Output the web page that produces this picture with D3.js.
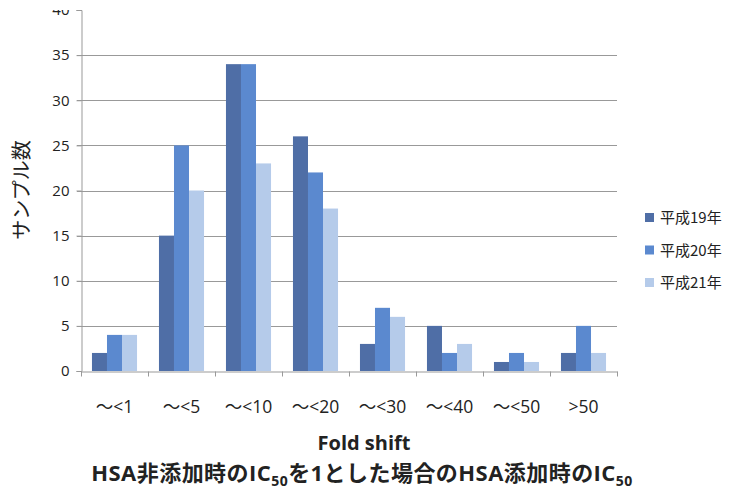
<!DOCTYPE html>
<html>
<head>
<meta charset="utf-8">
<script src="https://cdn.jsdelivr.net/npm/d3@7"></script>
<style>
  html, body { margin: 0; padding: 0; background: #fff; }
  svg { display: block; font-family: "Open Sans", "Noto Sans CJK JP", sans-serif; }
</style>
</head>
<body>
<svg id="chart" width="731" height="491"></svg>
<script>
// Fold-shift bins and sample counts per fiscal year
const categories = ["〜<1", "〜<5", "〜<10", "〜<20", "〜<30", "〜<40", "〜<50", ">50"];
const seriesNames = ["平成19年", "平成20年", "平成21年"];
const h19 = [2, 15, 34, 26, 3, 5, 1, 2];
const h20 = [4, 25, 34, 22, 7, 2, 2, 5];
const h21 = [4, 20, 23, 18, 6, 3, 1, 2];
const yTicks = [0, 5, 10, 15, 20, 25, 30, 35, 40];
const colors = ["#4f6ea6", "#5b89cf", "#b5cbea"];

const seriesValues = [h19, h20, h21];
const rows = categories.map((c, i) => ({
  cat: c,
  vals: seriesNames.map((s, k) => ({ key: s, value: seriesValues[k][i] }))
}));

const svg = d3.select("#chart");
const margin = { left: 81, right: 114, top: 10, bottom: 120 };
const W = 731, H = 491;

const x = d3.scaleBand().domain(categories).range([margin.left, W - margin.right]).paddingInner(0).paddingOuter(0);
const xInner = d3.scaleBand().domain(seriesNames).range([0, x.bandwidth()]).paddingInner(0).paddingOuter(0.73);
const y = d3.scaleLinear().domain([0, 40]).range([H - margin.bottom, margin.top]);

// clip for the top of the plot (the 40 label is cut at the page edge)
svg.append("defs").append("clipPath").attr("id", "topclip")
  .attr("clipPathUnits", "userSpaceOnUse")
  .append("rect").attr("x", -200).attr("y", 10).attr("width", 400).attr("height", H);

// horizontal gridlines
svg.append("g")
  .selectAll("line")
  .data(yTicks.filter(t => t > 0 && t < 40))
  .join("line")
  .attr("x1", margin.left - 4).attr("x2", W - margin.right)
  .attr("y1", d => Math.round(y(d)) + 0.5).attr("y2", d => Math.round(y(d)) + 0.5)
  .attr("stroke", "#999").attr("stroke-width", 1);

// bars
const groups = svg.append("g")
  .selectAll("g")
  .data(rows)
  .join("g")
  .attr("transform", d => `translate(${x(d.cat)},0)`);

groups.selectAll("rect")
  .data(d => d.vals)
  .join("rect")
  .attr("x", d => xInner(d.key))
  .attr("width", xInner.bandwidth())
  .attr("y", d => y(d.value))
  .attr("height", d => y(0) - y(d.value))
  .attr("fill", (d, i) => colors[i]);

// y axis
const yAxis = svg.append("g")
  .attr("transform", `translate(${margin.left + 0.5},0)`)
  .attr("clip-path", "url(#topclip)")
  .call(d3.axisLeft(y).tickValues(yTicks).tickSize(5).tickPadding(7));
yAxis.select(".domain").attr("stroke", "#999");
yAxis.selectAll(".tick line").attr("stroke", "#999");
yAxis.selectAll(".tick text").attr("font-size", 15).attr("fill", "#222")
  .attr("font-family", "'Open Sans', 'Noto Sans CJK JP', sans-serif");

// x axis
const xAxis = svg.append("g")
  .attr("transform", `translate(0,${Math.round(y(0)) + 0.5})`)
  .call(d3.axisBottom(x).tickSize(0).tickPadding(29));
xAxis.select(".domain").attr("stroke", "#999");
xAxis.selectAll(".tick text").attr("font-size", 17.5).attr("fill", "#222")
  .attr("font-family", "'Open Sans', 'Noto Sans CJK JP', sans-serif");
// boundary ticks between categories
xAxis.append("g").selectAll("line")
  .data(categories.concat(["end"]))
  .join("line")
  .attr("x1", (d, i) => Math.round(i < categories.length ? x(d) : x.range()[1]) + 0.5)
  .attr("x2", (d, i) => Math.round(i < categories.length ? x(d) : x.range()[1]) + 0.5)
  .attr("y1", 0).attr("y2", 5)
  .attr("stroke", "#999");

// y axis title
svg.append("text")
  .attr("transform", "translate(29,190) rotate(-90)")
  .attr("text-anchor", "middle")
  .attr("font-size", 20)
  .attr("fill", "#222")
  .attr("font-family", "'Noto Sans CJK JP', sans-serif")
  .text("サンプル数");

// x axis titles
svg.append("text")
  .attr("x", 364).attr("y", 450)
  .attr("text-anchor", "middle")
  .attr("font-size", 20).attr("font-weight", "bold").attr("fill", "#222")
  .attr("font-family", "'Open Sans', 'Noto Sans CJK JP', sans-serif")
  .text("Fold shift");

const sub = svg.append("text")
  .attr("x", 362).attr("y", 481)
  .attr("text-anchor", "middle")
  .attr("font-size", 22).attr("font-weight", "bold").attr("fill", "#222")
  .attr("letter-spacing", 0.45)
  .attr("font-family", "'Open Sans', 'Noto Sans CJK JP', sans-serif");
sub.append("tspan").text("HSA非添加時のIC");
sub.append("tspan").attr("font-size", 14).attr("dy", 5).text("50");
sub.append("tspan").attr("dy", -5).text("を1とした場合のHSA添加時のIC");
sub.append("tspan").attr("font-size", 14).attr("dy", 5).text("50");

// legend
const legend = svg.append("g").attr("transform", "translate(645,218)");
const li = legend.selectAll("g").data(seriesNames).join("g")
  .attr("transform", (d, i) => `translate(0,${i * 32.5})`);
li.append("rect").attr("x", 0).attr("y", -5).attr("width", 9).attr("height", 9)
  .attr("fill", (d, i) => colors[i]);
li.append("text").attr("x", 15).attr("y", 0).attr("dy", "0.35em")
  .attr("font-size", 15).attr("fill", "#222")
  .attr("font-family", "'Noto Sans CJK JP', sans-serif")
  .text(d => d);
</script>
</body>
</html>
